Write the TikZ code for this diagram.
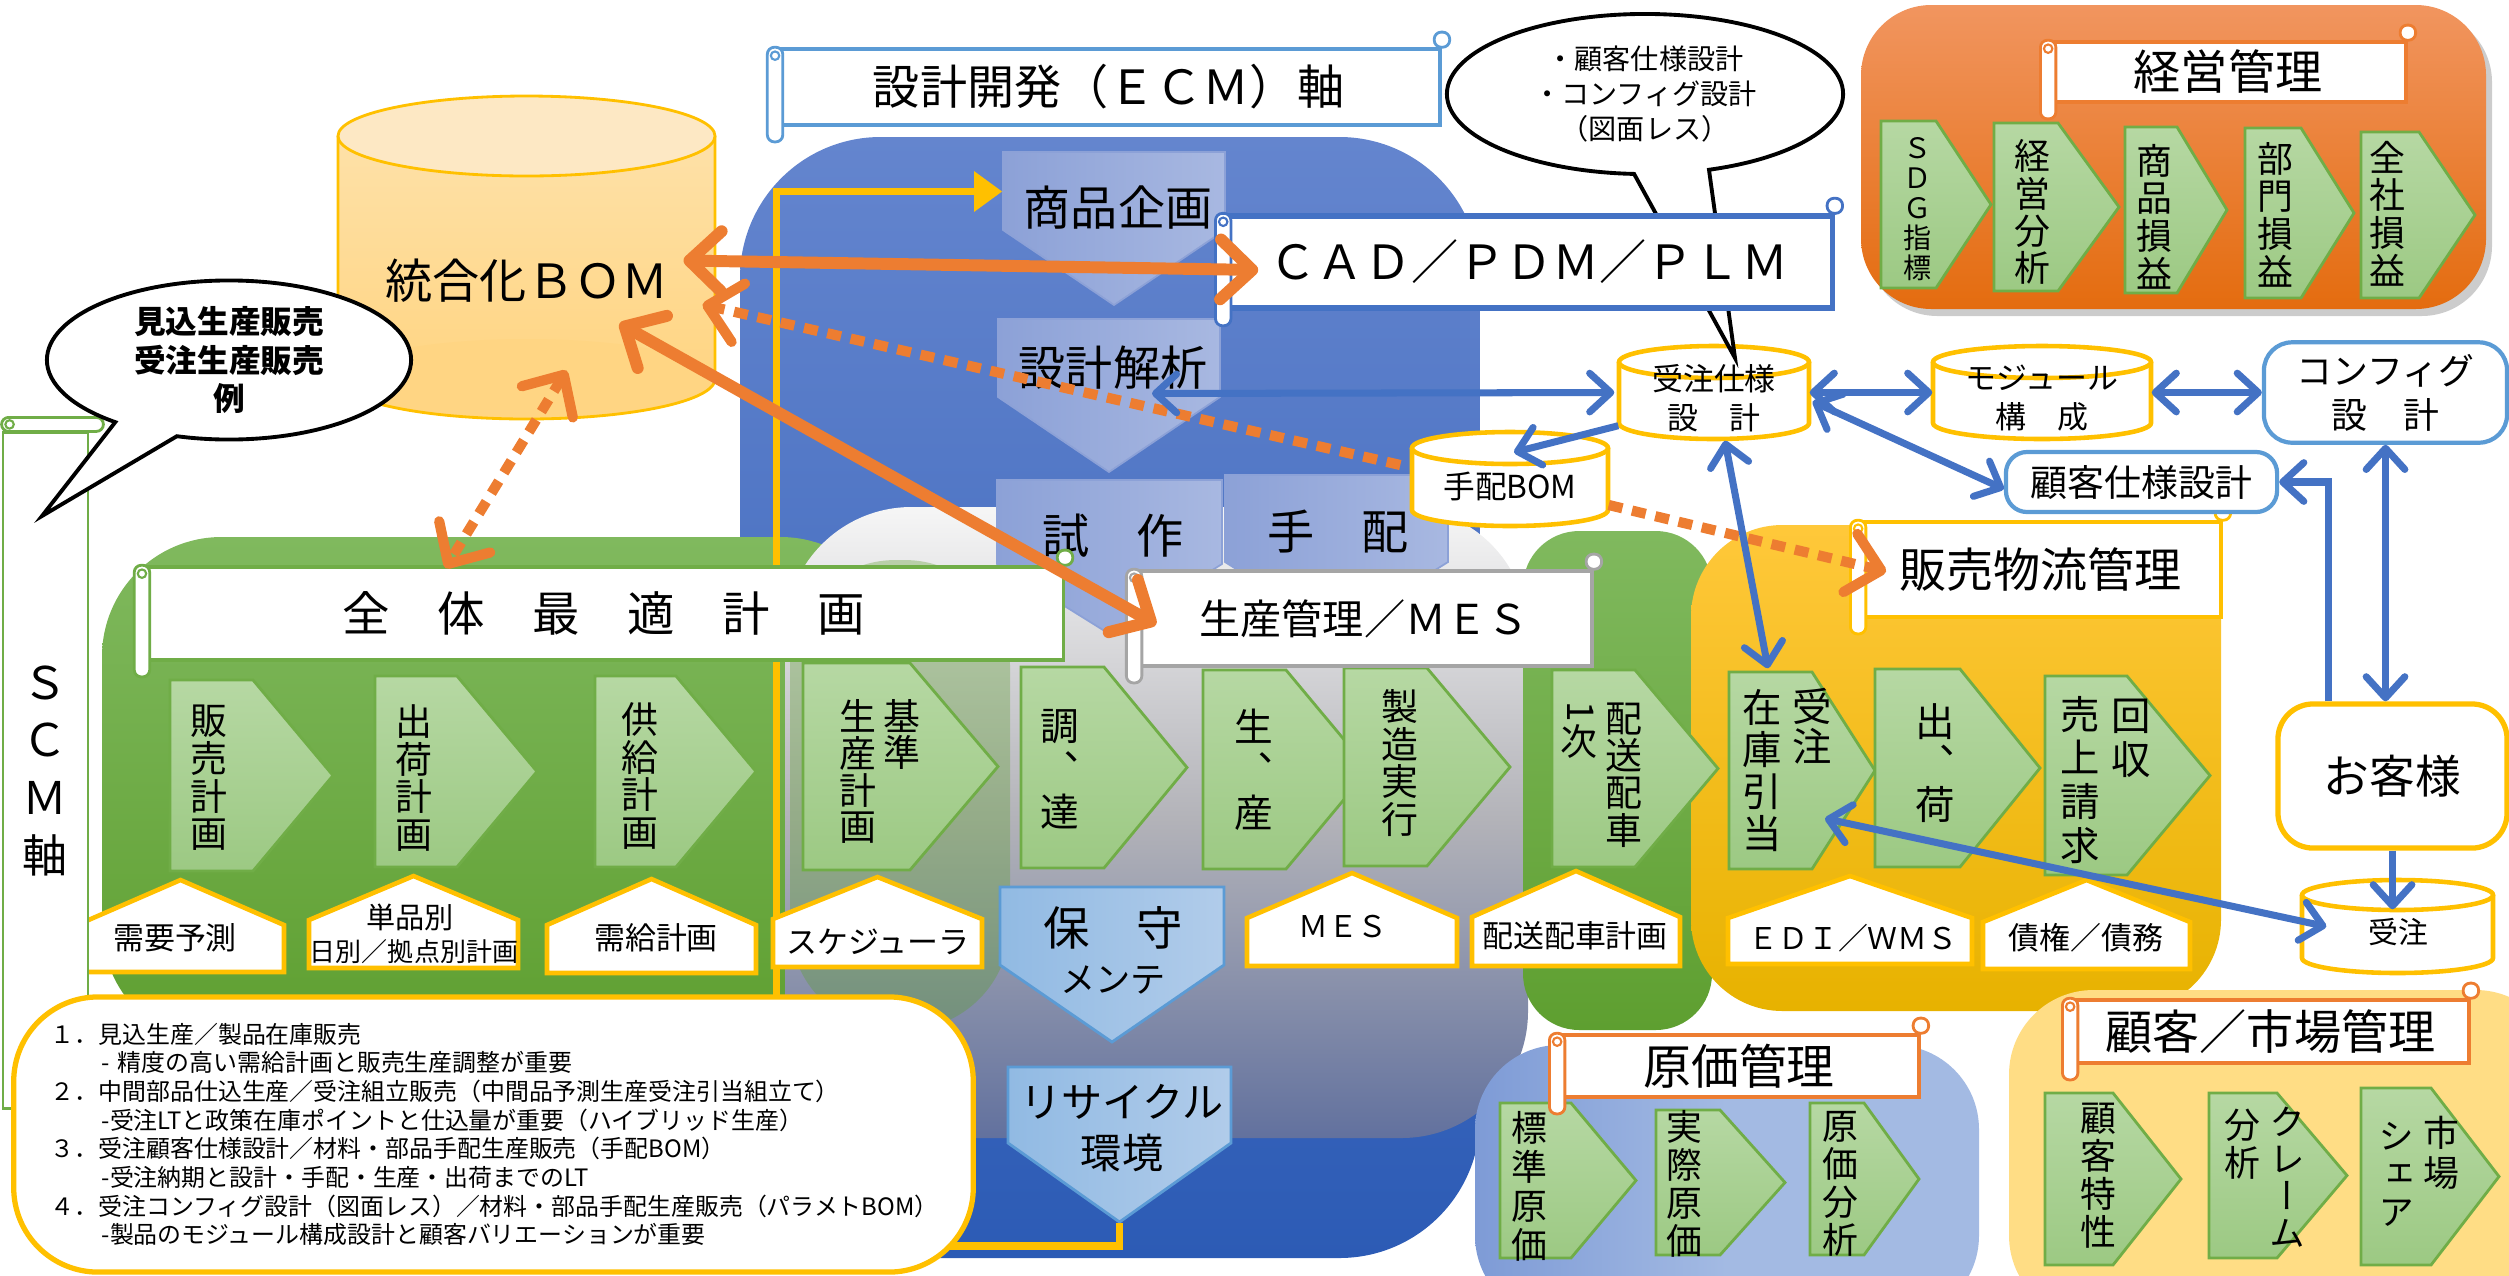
\documentclass[tikz,border=0pt]{standalone}
\usepackage{fontspec}
\setmainfont{Noto Sans CJK JP}
\newfontfamily\vjp{Noto Sans CJK JP}[RawFeature=+vert]
\usetikzlibrary{calc,fit,arrows.meta,shapes.callouts}

\definecolor{bomorange}{HTML}{ED7D31}
\definecolor{linkblue}{HTML}{4472C4}
\definecolor{gold}{HTML}{FFC000}
\definecolor{leafgreen}{HTML}{70AD47}
\definecolor{skyblue}{HTML}{5B9BD5}
\definecolor{steel}{HTML}{A5A5A5}
\definecolor{ecmtop}{HTML}{6485CE}
\definecolor{ecmbottom}{HTML}{2C5BB5}
\definecolor{scmtop}{HTML}{80B95E}
\definecolor{scmbottom}{HTML}{5E9F30}
\definecolor{mistwhite}{HTML}{F6F6F6}
\definecolor{mistmid}{HTML}{B2B2B8}
\definecolor{mistslate}{HTML}{62719E}
\definecolor{salestop}{HTML}{FFC83A}
\definecolor{salesbottom}{HTML}{E7B200}
\definecolor{mgmttop}{HTML}{F1955F}
\definecolor{mgmtbottom}{HTML}{E46C0F}
\definecolor{costleft}{HTML}{7E9BD6}
\definecolor{costright}{HTML}{A3BAE3}
\definecolor{custyellow}{HTML}{FFDD85}
\definecolor{bomlid}{HTML}{FDE8C4}
\definecolor{bomtop}{HTML}{FEE1A8}
\definecolor{bombody}{HTML}{FFD583}
\definecolor{stepleft}{HTML}{8CA1D7}
\definecolor{stepright}{HTML}{A8B8E1}
\definecolor{mntleft}{HTML}{91BAE3}
\definecolor{mntright}{HTML}{B1CCEA}
\definecolor{chevtop}{HTML}{B6D8A3}
\definecolor{chevbottom}{HTML}{9CC983}

\newcommand{\fsz}[2]{\fontsize{#1pt}{#2pt}\selectfont}

% step pointing right: x1, y1, x2, y2, tip depth
\newcommand{\chev}[5]{%
  \draw[chevfill] (#1,#2) -- ({#3-#5},#2) -- (#3,{(#2+#4)/2}) -- ({#3-#5},#4) -- (#1,#4) -- cycle;}
% house label: x1, apex, x2, shoulder, bottom
\newcommand{\house}[5]{%
  \draw[housefill] (#1,#5) -- (#1,#4) -- ({(#1+#3)/2},#2) -- (#3,#4) -- (#3,#5) -- cycle;}
% step pointing down: x1, top, x2, rect bottom, tip, style, name
\newcommand{\downstep}[7]{%
  \draw[#6] (#1,#2) -- (#3,#2) -- (#3,#4) -- ({(#1+#3)/2},#5) -- (#1,#4) -- cycle;
  \node[inner sep=0pt, fit={(#1,#2) (#3,#5)}] (#7) {};}
% white drum: name, x1, x2, top, bottom, lid radius
\newcommand{\drum}[6]{%
  \fill[white] (#2,{#4+#6}) rectangle (#3,{#5-#6});
  \draw[drumline] (#2,{#4+#6}) -- (#2,{#5-#6}) arc[start angle=180, end angle=0, x radius={(#3-#2)/2}, y radius=#6] -- (#3,{#4+#6});
  \draw[drumline] ({(#2+#3)/2},{#4+#6}) ellipse [x radius={(#3-#2)/2}, y radius=#6];
  \node[inner sep=0pt, fit={(#2,#4) (#3,#5)}] (#1) {};}
% rolled ends of a title scroll
\newcommand{\scrollcurl}[2]{%
  \draw[draw=#2, fill=white, line width=0.8pt, rounded corners=2pt]
    ([xshift=-2.2pt]#1.north west) rectangle ([xshift=2.2pt,yshift=-4.3pt]#1.south west);
  \draw[draw=#2, fill=white, line width=0.8pt, rounded corners=2pt]
    ([xshift=-2.2pt,yshift=4.3pt]#1.north east) rectangle ([xshift=2.2pt]#1.north east);
  \draw[#2, line width=0.6pt] ([yshift=-2.4pt]#1.north west) circle (1.2pt);}

\tikzset{
  chevfill/.style={top color=chevtop, bottom color=chevbottom, draw=leafgreen, line width=0.8pt},
  housefill/.style={fill=white, draw=gold, line width=1.3pt},
  ecmstep/.style={left color=stepleft, right color=stepright, draw=stepleft, line width=0.5pt},
  mntstep/.style={left color=mntleft, right color=mntright, draw=skyblue, line width=0.8pt},
  drumline/.style={draw=gold, fill=white, line width=1.3pt},
  scrollbox/.style={draw=#1, fill=white, line width=1pt, inner sep=0pt},
  vcol/.style={align=center, inner sep=0pt},
  talk/.style={ellipse callout, draw=black, fill=white, line width=1.1pt, inner sep=0pt, align=center, callout pointer arc=22},
  bomlink/.style={draw=bomorange, line width=3.4pt, >={Straight Barb[length=9pt,width=17pt,round]}},
  bomdots/.style={draw=bomorange, line width=2.9pt, dash pattern=on 4pt off 2.8pt, >={Straight Barb[length=9pt,width=17pt,round]}},
  bluelink/.style={draw=linkblue, line width=2pt, >={Straight Barb[length=6pt,width=11pt,round]}},
  ecmloop/.style={draw=gold, line width=2.2pt, -{Triangle[length=8pt,width=11pt]}}
}

\begin{document}
\begin{tikzpicture}[x=0.01cm, y=-0.01cm]
\useasboundingbox (0,0) rectangle (2509,1275);
\clip (0,0) rectangle (2509,1275);

% background areas
\shade[rounded corners=40pt, top color=ecmtop, bottom color=ecmbottom] (740,137) rectangle (1480,1258);
\shade[rounded corners=34pt, top color=scmtop, bottom color=scmbottom] (102,537) rectangle (900,1045);
\shade[rounded corners=36pt, top color=mistwhite, bottom color=mistslate, middle color=mistmid] (785,507) rectangle (1528,1138);
\fill[scmbottom, opacity=0.35, rounded corners=30pt] (790,560) rectangle (1010,1030);
\shade[rounded corners=16pt, top color=scmtop, bottom color=scmbottom] (1523,531) rectangle (1712,1030);
\shade[rounded corners=26pt, top color=salestop, bottom color=salesbottom] (1691,525) rectangle (2221,1011);
\fill[black, opacity=0.2, rounded corners=20pt] (1867,12) rectangle (2492,316);
\shade[rounded corners=20pt, top color=mgmttop, bottom color=mgmtbottom] (1861,5) rectangle (2486,309);
\shade[rounded corners=24pt, left color=costleft, right color=costright, middle color=costright] (1475,1045) rectangle (1979,1320);
\fill[custyellow, rounded corners=24pt] (2009,990) rectangle (2560,1320);

% design / ECM steps
\downstep{1003}{152}{1225}{230}{305}{ecmstep}{shohin}
\node[font=\fsz{13.4}{15}] (shohintext) at (1118,208) {商品企画};
\downstep{998}{319}{1220}{397}{472}{ecmstep}{kaiseki}
\node[font=\fsz{13.4}{15}] (kaisekitext) at (1113,368) {設計解析};
\downstep{997}{480}{1222}{564}{634}{ecmstep}{shisaku}
\node[font=\fsz{13.4}{15}] (shisakutext) at (1113,536) {試　作};
\downstep{1225}{475}{1448}{562}{632}{ecmstep}{tehaistep}
\node[font=\fsz{13.4}{15}] (tehaisteptext) at (1338,532) {手　配};
\downstep{1000}{887}{1224}{965}{1042}{mntstep}{hoshu}
\node[font=\fsz{13.2}{15}] (hoshutext) at (1113,928) {保　守};
\node[font=\fsz{10}{12}] (maintetext) at (1113,980) {メンテ};
\downstep{1008}{1067}{1231}{1143}{1222}{mntstep}{recycle}
\node[font=\fsz{11.7}{13}] (recycletext) at (1122,1102) {リサイクル};
\node[font=\fsz{11.7}{13}] (kankyotext) at (1122,1153) {環境};

\draw[ecmloop] (recycle.south) -- ++(0,23) -- ++(-343,0) |- ($(shohin.west)+(0,-37)$);

% SCM steps
\chev{170}{680}{333}{871}{80}
\chev{375}{676}{537}{867}{80}
\chev{595}{676}{756}{867}{80}
\chev{803}{663}{998}{870}{88}
\chev{1021}{667}{1187}{868}{83}
\chev{1203}{670}{1369}{869}{83}
\chev{1344}{668}{1510}{866}{83}
\chev{1552}{670}{1718}{867}{83}
\chev{1729}{672}{1875}{869}{63}
\node[inner sep=0pt, fit={(1729,672) (1875,869)}] (zaiko) {};
\chev{1875}{669}{2040}{867}{80}
\chev{2045}{676}{2210}{875}{83}
\node[vcol, font=\vjp\fsz{10.5}{10.7}] (salesplan) at (209,778) {販\\売\\計\\画};
\node[vcol, font=\vjp\fsz{10.5}{10.7}] (shipplan) at (414,778) {出\\荷\\計\\画};
\node[vcol, font=\vjp\fsz{10.5}{10.7}] (supplyplan) at (640,776) {供\\給\\計\\画};
\node[vcol, font=\vjp\fsz{10.5}{10.5}] (mpsa) at (902,734.5) {基\\準};
\node[vcol, font=\vjp\fsz{10.5}{10.5}] (mpsb) at (858,771.5) {生\\産\\計\\画};
\node[vcol, font=\vjp\fsz{11}{12.2}] (procure) at (1060,769) {調\\、\\達};
\node[vcol, font=\vjp\fsz{11}{12.2}] (produce) at (1254,770) {生\\、\\産};
\node[vcol, font=\vjp\fsz{10.5}{10.7}] (makeexec) at (1400,763) {製\\造\\実\\行};
\node[vcol, font=\vjp\fsz{10.5}{10.6}] (deliverya) at (1624,775) {配\\送\\配\\車};
\node[rotate=-90, inner sep=0pt, font=\fsz{10.5}{10.5}] (deliveryone) at (1581,712) {1};
\node[vcol, font=\vjp\fsz{10.5}{10.5}] (deliveryb) at (1579,741) {次};
\node[vcol, font=\vjp\fsz{11.2}{11.4}] (zaikoa) at (1812,726) {受\\注};
\node[vcol, font=\vjp\fsz{11.2}{12}] (zaikob) at (1762,770.5) {在\\庫\\引\\当};
\node[vcol, font=\vjp\fsz{11.2}{11.7}] (shipout) at (1935,763) {出\\、\\荷};
\node[vcol, font=\vjp\fsz{11.2}{12.5}] (billa) at (2131,738) {回\\収};
\node[vcol, font=\vjp\fsz{11.2}{12.5}] (billb) at (2080,780) {売\\上\\請\\求};

% management steps
\chev{1881}{121}{1991}{288}{55}
\chev{1994}{123}{2119}{291}{61}
\chev{2125}{127}{2227}{293}{50}
\chev{2245}{128}{2354}{298}{53}
\chev{2361}{132}{2475}{298}{56}
\node[vcol, font=\vjp\fsz{8}{8.5}] (sdg) at (1918,209) {Ｓ\\Ｄ\\Ｇ\\指\\標};
\node[vcol, font=\vjp\fsz{10.2}{10.6}] (keieibunseki) at (2032,212) {経\\営\\分\\析};
\node[vcol, font=\vjp\fsz{10.2}{10.7}] (shohinsoneki) at (2154,216.5) {商\\品\\損\\益};
\node[vcol, font=\vjp\fsz{10.2}{10.7}] (bumonsoneki) at (2275,214.5) {部\\門\\損\\益};
\node[vcol, font=\vjp\fsz{10.2}{10.7}] (zenshasoneki) at (2387,213.5) {全\\社\\損\\益};

% cost and market steps
\chev{1500}{1103}{1636}{1258}{65}
\chev{1656}{1110}{1785}{1255}{65}
\chev{1810}{1103}{1919}{1255}{55}
\chev{2045}{1093}{2181}{1265}{68}
\chev{2209}{1093}{2347}{1258}{70}
\chev{2361}{1088}{2499}{1265}{68}
\node[vcol, font=\vjp\fsz{10.2}{11.1}] (stdcost) at (1529,1186.5) {標\\準\\原\\価};
\node[vcol, font=\vjp\fsz{10.2}{10.8}] (actcost) at (1684,1184) {実\\際\\原\\価};
\node[vcol, font=\vjp\fsz{10.2}{10.8}] (costanalysis) at (1840,1184) {原\\価\\分\\析};
\node[vcol, font=\vjp\fsz{10.2}{10.8}] (custtrait) at (2098,1176) {顧\\客\\特\\性};
\node[vcol, font=\vjp\fsz{10.2}{10.5}] (claima) at (2287,1177) {ク\\レ\\ー\\ム};
\node[vcol, font=\vjp\fsz{10.2}{10.8}] (claimb) at (2242,1144) {分\\析};
\node[vcol, font=\vjp\fsz{10.2}{11.4}] (sharea) at (2441,1153) {市\\場};
\node[vcol, font=\vjp\fsz{10.2}{10.8}] (shareb) at (2396,1174) {シ\\ェ\\ア};

% house labels
\house{77}{880}{284}{925}{972}
\house{309}{876}{518}{920}{968}
\house{547}{879}{756}{925}{973}
\house{773}{877}{982}{919}{967}
\house{1247}{873}{1457}{918}{966}
\house{1472}{871}{1680}{917}{966}
\house{1728}{876}{1972}{918}{964}
\house{1983}{880}{2190}{922}{969}
\node[font=\fsz{8.8}{10}] (forecast) at (175,938) {需要予測};
\node[font=\fsz{8.3}{10}] (itemwise) at (410,917) {単品別};
\node[font=\fsz{7.4}{9}] (daywise) at (414,952) {日別／拠点別計画};
\node[font=\fsz{8.8}{10}] (balance) at (656,938) {需給計画};
\node[font=\fsz{8.8}{10}] (scheduler) at (878,942) {スケジューラ};
\node[font=\fsz{8.5}{10}] (meslabel) at (1343,927) {ＭＥＳ};
\node[font=\fsz{8.8}{10}] (dispatch) at (1575,936) {配送配車計画};
\node[font=\fsz{8.5}{10}] (ediwms) at (1853,938) {ＥＤＩ／ＷＭＳ};
\node[font=\fsz{8.8}{10}] (claims) at (2086,938) {債権／債務};

% title scrolls
\node[scrollbox=skyblue, minimum width=6.63cm, minimum height=0.76cm, font=\fsz{13.4}{15}] (ecmaxis) at (1108.5,87) {設計開発（ＥＣＭ）軸};
\scrollcurl{ecmaxis}{skyblue}
\node[scrollbox=leafgreen, minimum width=9.19cm, minimum height=0.93cm, font=\fsz{13.5}{15}] (plan) at (603.5,613.5) {全　体　最　適　計　画};
\scrollcurl{plan}{leafgreen}
\node[scrollbox=steel, minimum width=4.56cm, minimum height=0.95cm, font=\fsz{11.7}{13}] (mes) at (1364,618.5) {生産管理／ＭＥＳ};
\scrollcurl{mes}{steel}
\node[scrollbox=gold, minimum width=3.61cm, minimum height=0.95cm, font=\fsz{13.4}{15}] (hanbai) at (2040.5,569.5) {販売物流管理};
\scrollcurl{hanbai}{gold}
\node[scrollbox=bomorange, minimum width=3.56cm, minimum height=0.60cm, font=\fsz{13.4}{15}] (keiei) at (2228,72) {経営管理};
\scrollcurl{keiei}{bomorange}
\node[scrollbox=bomorange, minimum width=3.60cm, minimum height=0.62cm, font=\fsz{13.6}{15}] (genka) at (1739,1066) {原価管理};
\scrollcurl{genka}{bomorange}
\node[scrollbox=bomorange, minimum width=3.97cm, minimum height=0.63cm, font=\fsz{13.4}{15}] (market) at (2270.5,1031.5) {顧客／市場管理};
\scrollcurl{market}{bomorange}

% integrated BOM
\shade[top color=bomtop, bottom color=bombody] (338,136) rectangle (715,379);
\fill[bombody] (526.5,379) ellipse [x radius=188.5, y radius=40];
\draw[gold, line width=0.8pt] (338,136) -- (338,379) arc[start angle=180, end angle=0, x radius=188.5, y radius=40] -- (715,136);
\draw[fill=bomlid, draw=gold, line width=0.8pt] (526.5,136) ellipse [x radius=188.5, y radius=40];
\node[inner sep=0pt, fit={(338,96) (715,419)}] (bomdb) {};
\node[font=\fsz{13.4}{15}] (bomtext) at (527,281) {統合化ＢＯＭ};

% order side stores and boxes
\drum{juchu}{1619}{1809}{346}{439}{16}
\node[align=center, font=\fsz{8.8}{11}] (juchutext) at (1714,398) {受注仕様\\設　計};
\drum{module}{1933}{2151}{346}{439}{16}
\node[align=center, font=\fsz{8.8}{11}] (moduletext) at (2042,398) {モジュール\\構　成};
\drum{tehai}{1412}{1608}{432}{526}{16}
\node[font=\fsz{9}{10}] (tehaitext) at (1510,486) {手配BOM};
\drum{juchuorder}{2302}{2493}{880}{973}{15}
\node[font=\fsz{8.5}{10}] (juchuordertext) at (2398,932) {受注};
\node[draw=skyblue, fill=white, line width=1.2pt, rounded corners=8pt, minimum width=2.43cm, minimum height=0.93cm, align=center, font=\fsz{10.2}{12.5}] (config) at (2385.5,392.5) {コンフィグ\\設　計};
\node[draw=skyblue, fill=white, line width=1.2pt, rounded corners=6pt, minimum width=2.71cm, minimum height=0.60cm, font=\fsz{10.5}{12}] (kokyaku) at (2141.5,482) {顧客仕様設計};
\node[draw=gold, fill=white, line width=1.5pt, rounded corners=10pt, minimum width=2.29cm, minimum height=1.44cm, font=\fsz{13}{15}] (okyaku) at (2392.5,776) {お客様};

% callout above the order store, then the CAD scroll over its tail
\node[talk, callout absolute pointer={(1735,358)}, minimum width=3.96cm, minimum height=1.60cm, font=\fsz{8}{10}] (specnote) at (1645,94) {・顧客仕様設計\\・コンフィグ設計\\（図面レス）};
\node[scrollbox=linkblue, line width=1.5pt, minimum width=6.06cm, minimum height=0.92cm, font=\fsz{13.4}{15}] (cad) at (1529,262) {ＣＡＤ／ＰＤＭ／ＰＬＭ};
\scrollcurl{cad}{linkblue}

% SCM axis scroll
\node[draw=leafgreen, fill=white, line width=0.8pt, minimum width=0.85cm, minimum height=6.75cm, inner sep=0pt, align=center, font=\vjp\fsz{12.8}{16.4}] (scm) at (45.5,770.5) {Ｓ\\Ｃ\\Ｍ\\軸};
\draw[draw=leafgreen, fill=white, line width=0.8pt, rounded corners=2pt] ($(scm.north west)+(0,-14)$) rectangle ($(scm.north east)+(14,0)$);
\draw[leafgreen, line width=0.6pt] ($(scm.north west)+(8,-7)$) circle (1.2pt);

% cases
\node[draw=gold, fill=white, line width=1.5pt, rounded corners=24pt, text width=8.85cm, inner xsep=0.37cm, minimum height=2.75cm, align=left, font=\fsz{6.8}{8.15}] (cases) at (493.5,1134.5) {%
１．見込生産／製品在庫販売\\
\hspace*{14.5pt}- 精度の高い需給計画と販売生産調整が重要\\
２．中間部品仕込生産／受注組立販売（中間品予測生産受注引当組立て）\\
\hspace*{14.5pt}-受注LTと政策在庫ポイントと仕込量が重要（ハイブリッド生産）\\
３．受注顧客仕様設計／材料・部品手配生産販売（手配BOM）\\
\hspace*{14.5pt}-受注納期と設計・手配・生産・出荷までのLT\\
４．受注コンフィグ設計（図面レス）／材料・部品手配生産販売（パラメトBOM）\\
\hspace*{14.5pt}-製品のモジュール構成設計と顧客バリエーションが重要};

\node[talk, callout absolute pointer={(42,516)}, minimum width=3.64cm, minimum height=1.59cm, font=\bfseries\fsz{9}{11}] (mtobubble) at (229,360) {見込生産販売\\受注生産販売\\例};

% BOM links
\draw[bomlink, <->] ($(bomdb.center)+(157,3)$) -- ($(cad.west)+(35,8)$);
\draw[bomdots, ->] ($(tehai.west)+(-11,-14)$) -- ($(bomdb.center)+(176,47)$);
\draw[bomlink, <->] ($(bomdb.center)+(93,66)$) -- ($(mes.west)+(22,6)$);
\draw[bomdots, <->] ($(bomdb.center)+(40,113)$) -- ($(plan.north)+(-158,3)$);
\draw[bomdots, ->] ($(tehai.east)+(0,26)$) -- ($(hanbai.west)+(28,2)$);

% order flow links
\draw[bluelink, <->] ($(kaiseki.center)+(43,-2)$) -- ($(juchu.west)+(-4,0)$);
\draw[bluelink, ->] ($(juchu.south west)+(0,-14)$) -- ($(tehai.north)+(4,21)$);
\draw[bluelink, <->] (juchu.east) -- (module.west);
\draw[bluelink, <->] (module.east) -- (config.west);
\draw[bluelink, <->] ($(juchu.east)+(3,9)$) -- ($(kokyaku.west)+(0,7)$);
\draw[bluelink, <->] ($(juchu.south)+(11,1)$) -- ($(zaiko.north)+(-34,-3)$);
\draw[bluelink, ->] ($(okyaku.north)+(-64,0)$) |- (kokyaku.east);
\draw[bluelink, <->] (config.south) -- (config.south |- okyaku.north);
\draw[bluelink, ->] (okyaku.south) -- ($(juchuorder.north)+(-5,30)$);
\draw[bluelink, <->] ($(juchuorder.west)+(25,0)$) -- ($(zaiko.center)+(23,48)$);
\end{tikzpicture}
\end{document}
